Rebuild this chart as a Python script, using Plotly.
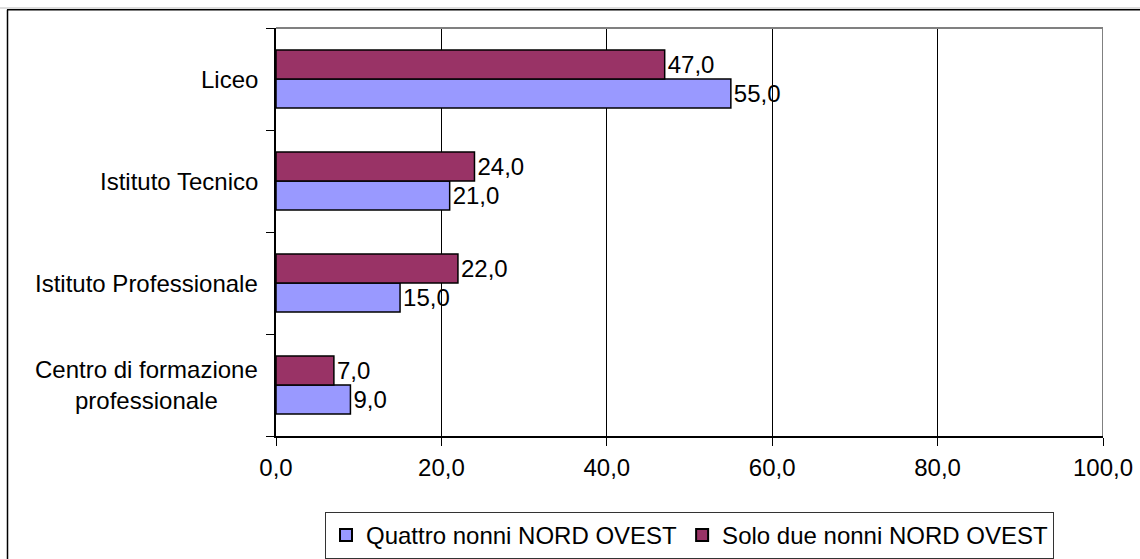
import plotly.graph_objects as go

categories = ["Liceo", "Istituto Tecnico", "Istituto Professionale", "Centro di formazione<br>professionale"]
quattro_nonni = [55.0, 21.0, 15.0, 9.0]
solo_due_nonni = [47.0, 24.0, 22.0, 7.0]
series_names = ["Quattro nonni NORD OVEST", "Solo due nonni NORD OVEST"]
x_ticks = [0, 20, 40, 60, 80, 100]

FONT = "Liberation Sans, Arial, sans-serif"
W, H = 1140, 559
L, R, T, B = 276, 37, 28, 123
pw, ph = W - L - R, H - T - B

def px(xp):
    return (xp - L) / pw

def py(yp):
    return (H - B - yp) / ph

fig = go.Figure()
fig.add_trace(go.Bar(
    y=categories, x=quattro_nonni, name=series_names[0], orientation="h",
    marker=dict(color="#9999FF", line=dict(color="#000000", width=1.5)),
    text=quattro_nonni, texttemplate="%{x:.1f}", textposition="outside",
    textfont=dict(family=FONT, size=24, color="#000000"), constraintext="none",
    cliponaxis=False,
))
fig.add_trace(go.Bar(
    y=categories, x=solo_due_nonni, name=series_names[1], orientation="h",
    marker=dict(color="#993366", line=dict(color="#000000", width=1.5)),
    text=solo_due_nonni, texttemplate="%{x:.1f}", textposition="outside",
    textfont=dict(family=FONT, size=24, color="#000000"), constraintext="none",
    cliponaxis=False,
))

annotations = []
for c in categories:
    annotations.append(dict(
        x=0, xref="paper", y=c, yref="y", text=c, showarrow=False,
        xanchor="right", yanchor="middle", align="center", xshift=-16,
        font=dict(family=FONT, size=24, color="#000000"),
    ))

shapes = [
    # plot area top/right gray border
    dict(type="line", xref="x", yref="paper", x0=0, x1=100, y0=1, y1=1,
         line=dict(color="#808080", width=2), layer="above"),
    dict(type="line", xref="x", yref="paper", x0=100, x1=100, y0=0, y1=1,
         line=dict(color="#808080", width=2), layer="above"),
    # outer chart frame
    dict(type="line", xref="paper", yref="paper", x0=px(-5), x1=px(1150), y0=py(8), y1=py(8),
         line=dict(color="#BBBBBB", width=1)),
    dict(type="line", xref="paper", yref="paper", x0=px(7), x1=px(1150), y0=py(9.8), y1=py(9.8),
         line=dict(color="#000000", width=1.5)),
    dict(type="line", xref="paper", yref="paper", x0=px(7.5), x1=px(7.5), y0=py(9.8), y1=py(570),
         line=dict(color="#000000", width=1.5)),
]

fig.update_layout(
    width=W, height=H,
    margin=dict(l=L, r=R, t=T, b=B, autoexpand=False),
    paper_bgcolor="#FFFFFF", plot_bgcolor="#FFFFFF",
    barmode="group", bargap=0.43, bargroupgap=0,
    separators=",.",
    font=dict(family=FONT, size=24, color="#000000"),
    showlegend=True,
    legend=dict(
        orientation="h", x=0.5, xanchor="center", y=py(512), yanchor="top",
        bordercolor="#333333", borderwidth=1, bgcolor="#FFFFFF",
        font=dict(family=FONT, size=24, color="#000000"),
        traceorder="normal", itemsizing="constant",
    ),
    xaxis=dict(
        range=[0, 100], tickvals=x_ticks, tickformat=".1f",
        showgrid=True, gridcolor="#000000", gridwidth=1,
        showline=True, linecolor="#000000", linewidth=1.5,
        ticks="outside", ticklen=8, tickcolor="#000000", tickwidth=1,
        zeroline=False, ticklabelstandoff=1,
        tickfont=dict(family=FONT, size=24, color="#000000"),
    ),
    yaxis=dict(
        categoryorder="array", categoryarray=categories[::-1],
        showticklabels=False, tickson="boundaries",
        showgrid=False, showline=True, linecolor="#000000", linewidth=1.5,
        ticks="outside", ticklen=8, tickcolor="#000000", tickwidth=1,
        zeroline=False,
    ),
    annotations=annotations,
    shapes=shapes,
)

fig.write_html("out.html", config={"displayModeBar": False},
               post_script="document.body.style.margin='0';")
